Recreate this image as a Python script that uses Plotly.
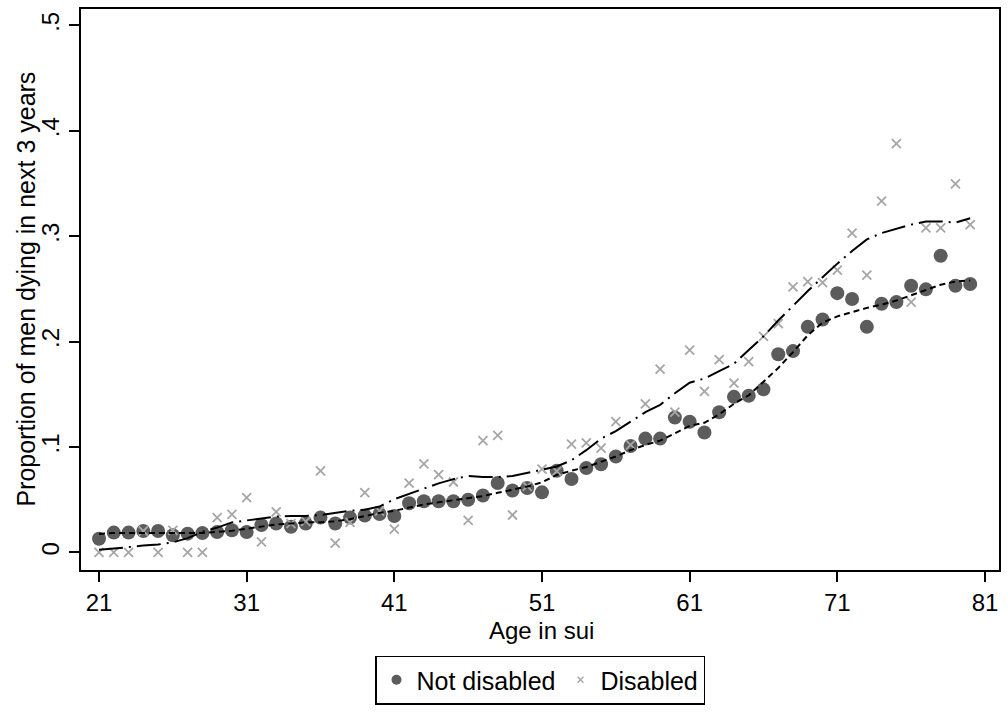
import plotly.graph_objects as go

ages = list(range(21, 81))

not_disabled = [0.013, 0.0188, 0.0188, 0.0203, 0.0203, 0.0163, 0.0178, 0.0183, 0.0193, 0.021,
                 0.0193, 0.026, 0.0274, 0.0244, 0.0274, 0.033, 0.0274, 0.033, 0.035, 0.0365,
                 0.0345, 0.0466, 0.0486, 0.0486, 0.0486, 0.050, 0.054, 0.0658, 0.0587, 0.061,
                 0.057, 0.0774, 0.0696, 0.080, 0.0837, 0.091, 0.101, 0.108, 0.108, 0.128,
                 0.124, 0.1138, 0.133, 0.1476, 0.1486, 0.1547, 0.188, 0.191, 0.214, 0.221,
                 0.246, 0.2405, 0.214, 0.236, 0.2375, 0.253, 0.2496, 0.2815, 0.253, 0.2546]

disabled = [0.0, 0.0, 0.0, 0.0203, 0.0, 0.021, 0.0, 0.0, 0.033, 0.036,
            0.052, 0.010, 0.0385, 0.0274, 0.0294, 0.0774, 0.0087, 0.0284, 0.0567, 0.0392,
            0.022, 0.0658, 0.084, 0.0737, 0.0668, 0.0304, 0.106, 0.111, 0.0355, 0.0627,
            0.079, 0.077, 0.1027, 0.104, 0.099, 0.124, 0.102, 0.141, 0.1738, 0.133,
            0.192, 0.1527, 0.183, 0.1607, 0.181, 0.205, 0.217, 0.252, 0.257, 0.256,
            0.2678, 0.303, 0.263, 0.3334, 0.3878, 0.2375, 0.308, 0.308, 0.3496, 0.311]

not_disabled_fit = [0.0175, 0.0185, 0.0185, 0.0185, 0.0185, 0.0185, 0.0185, 0.0185, 0.0195, 0.0205,
                    0.0225, 0.0245, 0.0265, 0.0275, 0.0285, 0.0285, 0.0295, 0.0315, 0.0345, 0.0375,
                    0.0395, 0.0425, 0.0455, 0.0475, 0.0495, 0.0515, 0.0535, 0.0565, 0.0595, 0.0625,
                    0.0665, 0.0735, 0.0775, 0.081, 0.086, 0.091, 0.097, 0.102, 0.106, 0.113,
                    0.120, 0.123, 0.131, 0.141, 0.149, 0.162, 0.175, 0.190, 0.206, 0.218,
                    0.224, 0.228, 0.232, 0.235, 0.239, 0.244, 0.249, 0.254, 0.257, 0.258]

disabled_fit = [0.0025, 0.0035, 0.005, 0.0065, 0.0075, 0.0095, 0.0135, 0.0195, 0.0235, 0.0285,
                0.0305, 0.0325, 0.034, 0.0345, 0.0345, 0.0355, 0.0375, 0.0395, 0.0405, 0.0435,
                0.0505, 0.0555, 0.0605, 0.0655, 0.0695, 0.0725, 0.0715, 0.0715, 0.0725, 0.0755,
                0.0785, 0.0815, 0.0875, 0.097, 0.108, 0.115, 0.124, 0.133, 0.140, 0.151,
                0.161, 0.165, 0.172, 0.179, 0.192, 0.205, 0.220, 0.234, 0.248, 0.261,
                0.274, 0.286, 0.297, 0.303, 0.307, 0.311, 0.314, 0.314, 0.313, 0.317]

x_ticks = [21, 31, 41, 51, 61, 71, 81]
y_tickvals = [0, 0.1, 0.2, 0.3, 0.4, 0.5]
y_ticktext = ["0", ".1", ".2", ".3", ".4", ".5"]

x_title = "Age in sui"
y_title = "Proportion of men dying in next 3 years"

FONT = "Liberation Sans, Arial, sans-serif"
DARK = "#5c5c5c"
LIGHT = "#a6a6a6"

fig = go.Figure()

fig.add_trace(go.Scatter(x=ages, y=not_disabled, mode="markers", showlegend=False,
                         marker=dict(symbol="circle", size=14, color=DARK)))
fig.add_trace(go.Scatter(x=ages, y=disabled, mode="markers", showlegend=False,
                         marker=dict(symbol="x-thin", size=9, color=LIGHT,
                                     line=dict(color=LIGHT, width=1.8))))
fig.add_trace(go.Scatter(x=ages, y=not_disabled_fit, mode="lines", showlegend=False,
                         line=dict(color="black", width=2, dash="6px,4px")))
fig.add_trace(go.Scatter(x=ages, y=disabled_fit, mode="lines", showlegend=False,
                         line=dict(color="black", width=2, dash="24px,6px,2px,6px")))

# legend entries
fig.add_trace(go.Scatter(x=[None], y=[None], mode="markers", name="Not disabled",
                         marker=dict(symbol="circle", size=10, color=DARK)))
fig.add_trace(go.Scatter(x=[None], y=[None], mode="markers", name="Disabled",
                         marker=dict(symbol="x-thin", size=6, color=LIGHT,
                                     line=dict(color=LIGHT, width=1.3))))

fig.update_layout(
    width=1008, height=712,
    margin=dict(l=81, r=7, t=7, b=139),
    paper_bgcolor="white", plot_bgcolor="white",
    font=dict(family=FONT, size=25, color="black"),
    legend=dict(orientation="h", x=0.5, xanchor="center", y=-0.1525, yanchor="top",
                bordercolor="black", borderwidth=1.5, bgcolor="white",
                font=dict(family=FONT, size=25, color="black"),
                itemwidth=30, tracegroupgap=0),
    xaxis=dict(range=[19.78, 81.95], tickvals=x_ticks, ticks="outside", ticklen=10,
               tickwidth=1.5, tickcolor="black", showline=True, linecolor="black",
               linewidth=2, mirror=True, showgrid=False, zeroline=False,
               tickfont=dict(size=24)),
    yaxis=dict(range=[-0.0167, 0.5156], tickvals=y_tickvals, ticktext=y_ticktext,
               tickangle=-90, ticks="outside", ticklen=10, tickwidth=1.5, tickcolor="black",
               showline=True, linecolor="black", linewidth=2, mirror=True,
               showgrid=False, zeroline=False, tickfont=dict(size=24)),
    annotations=[
        dict(text=x_title, xref="paper", yref="paper", x=0.502, y=-0.1085,
             xanchor="center", yanchor="middle", showarrow=False,
             font=dict(family=FONT, size=24, color="black")),
        dict(text=y_title, xref="paper", yref="paper", x=-0.0609, y=0.5,
             xanchor="center", yanchor="middle", textangle=-90, showarrow=False,
             font=dict(family=FONT, size=25, color="black")),
    ],
)

fig.write_html("out.html", config={"displayModeBar": False},
               post_script="document.body.style.margin='0';document.body.style.padding='0';"
                           "document.body.style.overflow='hidden';")
